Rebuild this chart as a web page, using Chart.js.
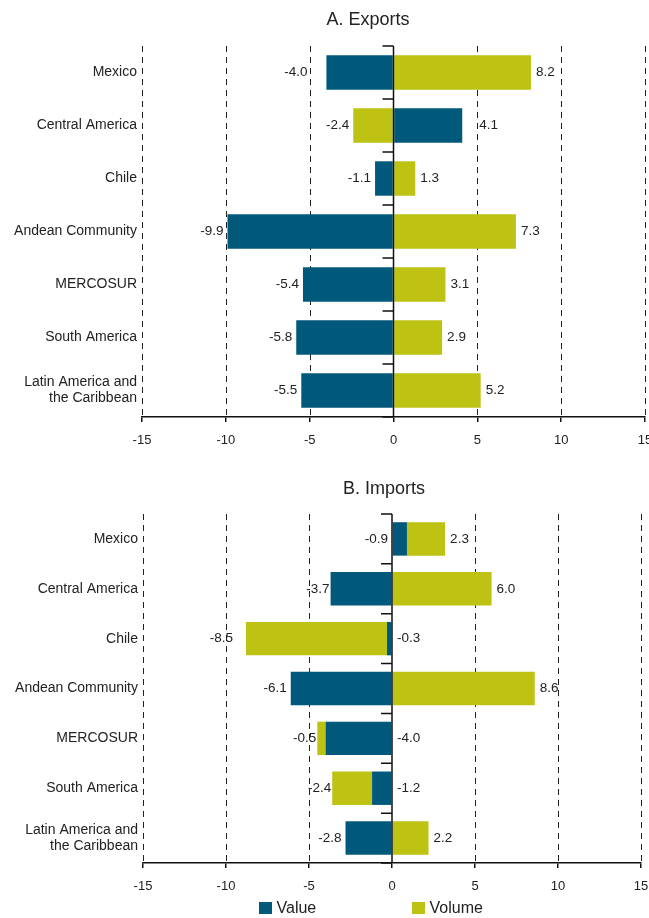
<!DOCTYPE html>
<html>
<head>
<meta charset="utf-8">
<script src="https://cdn.jsdelivr.net/npm/chart.js"></script>
<style>
  body { margin: 0; background: #fff; font-family: "Liberation Sans", Arial, sans-serif; }
  #wrap { position: relative; width: 649px; height: 918px; }
  canvas { position: absolute; left: 0; }
  .leg { position: absolute; top: 898px; font-size: 16px; color: #222; line-height: 20px; }
  .leg span { display: inline-block; width: 12.5px; height: 12.5px; vertical-align: -1px; margin-right: 5px; }
</style>
</head>
<body>
<div id="wrap">
  <canvas id="exports" width="649" height="470" style="top:0"></canvas>
  <canvas id="imports" width="649" height="448" style="top:470px"></canvas>
  <div class="leg" style="left:259px"><span style="background:#00597a"></span>Value</div>
  <div class="leg" style="left:412px"><span style="background:#bdc213"></span>Volume</div>
</div>
<script>
// categories, same for both panels
var categories = ['Mexico', 'Central America', 'Chile', 'Andean Community', 'MERCOSUR', 'South America', ['Latin America and', 'the Caribbean']];

// A. Exports
var exportsValue  = [-4.0, 4.1, -1.1, -9.9, -5.4, -5.8, -5.5];
var exportsVolume = [8.2, -2.4, 1.3, 7.3, 3.1, 2.9, 5.2];
var exportsValueLabels  = ['-4.0', '4.1', '-1.1', '-9.9', '-5.4', '-5.8', '-5.5'];
var exportsVolumeLabels = ['8.2', '-2.4', '1.3', '7.3', '3.1', '2.9', '5.2'];

// B. Imports (bars as drawn, labels as printed)
var importsValue  = [0.9, -3.7, -0.3, -6.1, -4.0, -1.2, -2.8];
var importsVolume = [2.3, 6.0, -8.5, 8.6, -0.5, -2.4, 2.2];
var importsValueLabels  = ['-0.9', '-3.7', '-0.3', '-6.1', '-4.0', '-1.2', '-2.8'];
var importsVolumeLabels = ['2.3', '6.0', '-8.5', '8.6', '-0.5', '-2.4', '2.2'];

var xTicks = [-15, -10, -5, 0, 5, 10, 15];

var BLUE = '#00597a';
var GREEN = '#bdc213';
var FONT = '"Liberation Sans", Arial, sans-serif';

var decor = {
  id: 'decor',
  beforeDatasetsDraw: function (chart, args, opts) {
    var ctx = chart.ctx, a = chart.chartArea, xs = chart.scales.x;
    ctx.save();
    ctx.strokeStyle = '#222';
    ctx.lineWidth = 1;
    ctx.setLineDash([6, 5]);
    xTicks.forEach(function (v) {
      if (v === 0) return;
      var x = Math.round(xs.getPixelForValue(v)) + 0.5;
      ctx.beginPath();
      ctx.moveTo(x, a.top);
      ctx.lineTo(x, a.bottom);
      ctx.stroke();
    });
    ctx.restore();
  },
  afterDatasetsDraw: function (chart, args, opts) {
    var ctx = chart.ctx, a = chart.chartArea, xs = chart.scales.x, ys = chart.scales.y;
    var x0 = xs.getPixelForValue(0);
    var n = categories.length;
    ctx.save();
    // zero line and category ticks
    ctx.strokeStyle = '#111';
    ctx.lineWidth = 1.5;
    ctx.beginPath();
    ctx.moveTo(x0, a.top);
    ctx.lineTo(x0, a.bottom);
    for (var i = 0; i <= n; i++) {
      var yb = a.top + i * (a.bottom - a.top) / n;
      ctx.moveTo(x0 - 11, yb);
      ctx.lineTo(x0, yb);
    }
    ctx.stroke();

    // value labels: outer segment at its end, inner one on the other side
    var val = chart.data.datasets[0].data, vol = chart.data.datasets[1].data;
    var shift = opts.shift || {};
    ctx.fillStyle = '#222';
    ctx.font = '13.5px ' + FONT;
    ctx.textBaseline = 'middle';
    for (var j = 0; j < n; j++) {
      var y = ys.getPixelForValue(j);
      var neg = Math.min(val[j], 0) + Math.min(vol[j], 0);
      var pos = Math.max(val[j], 0) + Math.max(vol[j], 0);
      var gapL = (shift['l' + j] || 0) + 4, gapR = (shift['r' + j] || 0) + 5;
      var xl = xs.getPixelForValue(neg) - gapL;
      var xr = xs.getPixelForValue(pos) + gapR;
      var left, right;
      if (val[j] < 0 && vol[j] >= 0) { left = opts.valueLabels[j]; right = opts.volumeLabels[j]; }
      else if (val[j] >= 0 && vol[j] < 0) { left = opts.volumeLabels[j]; right = opts.valueLabels[j]; }
      else if (val[j] < 0) { left = opts.volumeLabels[j]; right = opts.valueLabels[j]; }
      else { left = opts.valueLabels[j]; right = opts.volumeLabels[j]; }
      ctx.textAlign = 'right';
      ctx.fillText(left, xl, y);
      ctx.textAlign = 'left';
      ctx.fillText(right, xr, y);
    }

    // panel title
    ctx.font = '18px ' + FONT;
    ctx.textAlign = 'center';
    ctx.fillText(opts.title, opts.titleX, opts.titleY);
    ctx.restore();
  }
};

function makeChart(id, value, volume, valueLabels, volumeLabels, cfg) {
  return new Chart(document.getElementById(id), {
    type: 'bar',
    data: {
      labels: categories,
      datasets: [
        { label: 'Value', data: value, backgroundColor: BLUE, borderWidth: 0 },
        { label: 'Volume', data: volume, backgroundColor: GREEN, borderWidth: 0 }
      ]
    },
    options: {
      indexAxis: 'y',
      responsive: false,
      animation: false,
      barPercentage: cfg.barPct,
      categoryPercentage: 1,
      layout: { padding: { top: cfg.top, right: cfg.right, bottom: cfg.bottom, left: 0 } },
      plugins: {
        legend: { display: false },
        tooltip: { enabled: false },
        decor: {
          title: cfg.title, titleX: cfg.titleX, titleY: cfg.titleY,
          valueLabels: valueLabels, volumeLabels: volumeLabels, shift: cfg.shift
        }
      },
      scales: {
        x: {
          stacked: true,
          min: -15, max: 15,
          afterBuildTicks: function (s) { s.ticks = xTicks.map(function (v) { return { value: v }; }); },
          afterFit: function (s) { s.height = 40; s.paddingLeft = 0; s.paddingRight = 0; },
          grid: { drawOnChartArea: false, drawTicks: true, tickLength: 5, color: '#111', lineWidth: 1.5 },
          border: { display: true, color: '#111', width: 1.5 },
          ticks: { color: '#222', padding: 11, maxRotation: 0, font: { family: FONT, size: 13 } }
        },
        y: {
          stacked: true,
          afterFit: function (s) { s.width = cfg.left; },
          grid: { display: false, drawTicks: false },
          border: { display: false },
          ticks: { color: '#222', padding: 5, font: { family: FONT, size: 14, lineHeight: 1.15 } }
        }
      }
    },
    plugins: [decor]
  });
}

makeChart('exports', exportsValue, exportsVolume, exportsValueLabels, exportsVolumeLabels,
  { title: 'A. Exports', titleX: 368, titleY: 20, top: 46, right: 4, bottom: 13, left: 142, barPct: 0.65,
    shift: { l0: 15, r1: 12 } });

makeChart('imports', importsValue, importsVolume, importsValueLabels, importsVolumeLabels,
  { title: 'B. Imports', titleX: 384, titleY: 19, top: 44, right: 8, bottom: 15, left: 143, barPct: 0.67,
    shift: { l1: -3, l2: 9, l4: -3, l5: -3 } });
</script>
</body>
</html>
